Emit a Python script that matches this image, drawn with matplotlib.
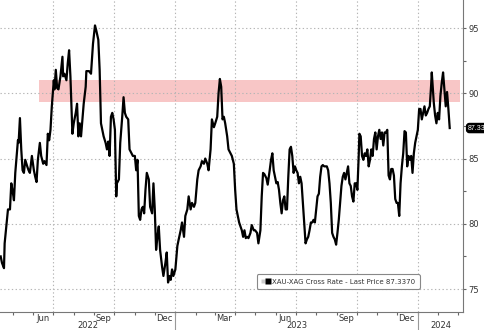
import matplotlib
matplotlib.use("Agg")
import matplotlib.pyplot as plt
import matplotlib.dates as mdates
from matplotlib.legend_handler import HandlerTuple
from matplotlib.lines import Line2D
import pandas as pd

# XAU-XAG cross rate
dates = [
    "2022-04-13", "2022-04-15", "2022-04-18", "2022-04-19", "2022-04-22", "2022-04-24", "2022-04-27", "2022-04-29",
    "2022-05-01", "2022-05-03", "2022-05-05", "2022-05-09", "2022-05-10", "2022-05-12", "2022-05-14", "2022-05-16",
    "2022-05-18", "2022-05-20", "2022-05-23", "2022-05-25", "2022-05-27", "2022-05-30", "2022-06-02", "2022-06-04",
    "2022-06-06", "2022-06-08", "2022-06-11", "2022-06-13", "2022-06-16", "2022-06-18", "2022-06-21", "2022-06-23",
    "2022-06-25", "2022-06-27", "2022-06-29", "2022-07-02", "2022-07-03", "2022-07-05", "2022-07-07", "2022-07-09",
    "2022-07-12", "2022-07-15", "2022-07-16", "2022-07-18", "2022-07-21", "2022-07-23", "2022-07-25", "2022-07-27",
    "2022-07-30", "2022-08-01", "2022-08-04", "2022-08-06", "2022-08-08", "2022-08-10", "2022-08-12", "2022-08-14",
    "2022-08-16", "2022-08-19", "2022-08-20", "2022-08-24", "2022-08-27", "2022-08-30", "2022-09-02", "2022-09-04",
    "2022-09-07", "2022-09-09", "2022-09-11", "2022-09-13", "2022-09-15", "2022-09-18", "2022-09-20", "2022-09-22",
    "2022-09-24", "2022-09-26", "2022-09-28", "2022-09-30", "2022-10-02",
    "2022-10-04", "2022-10-05", "2022-10-08", "2022-10-10", "2022-10-13", "2022-10-15", "2022-10-17", "2022-10-19",
    "2022-10-22", "2022-10-24", "2022-10-27", "2022-10-29", "2022-11-01", "2022-11-03", "2022-11-05", "2022-11-07",
    "2022-11-09", "2022-11-11", "2022-11-13", "2022-11-15", "2022-11-17", "2022-11-19", "2022-11-22", "2022-11-24",
    "2022-11-27", "2022-11-29", "2022-12-01", "2022-12-03", "2022-12-05", "2022-12-07", "2022-12-09", "2022-12-12",
    "2022-12-14", "2022-12-17", "2022-12-19", "2022-12-21", "2022-12-23", "2022-12-25", "2022-12-27", "2022-12-29",
    "2023-01-01", "2023-01-04", "2023-01-06", "2023-01-09", "2023-01-11", "2023-01-14", "2023-01-16", "2023-01-19",
    "2023-01-21", "2023-01-24", "2023-01-26", "2023-01-29", "2023-01-31", "2023-02-03", "2023-02-05", "2023-02-08",
    "2023-02-10", "2023-02-13", "2023-02-15", "2023-02-18", "2023-02-20", "2023-02-23", "2023-02-25", "2023-02-28",
    "2023-03-02", "2023-03-05", "2023-03-07", "2023-03-09", "2023-03-11", "2023-03-13", "2023-03-15", "2023-03-17",
    "2023-03-20", "2023-03-22",
    "2023-03-27", "2023-03-30", "2023-04-01", "2023-04-03", "2023-04-05", "2023-04-07", "2023-04-09", "2023-04-11",
    "2023-04-13", "2023-04-15", "2023-04-17", "2023-04-19", "2023-04-21", "2023-04-24", "2023-04-26", "2023-04-29",
    "2023-05-01", "2023-05-04", "2023-05-06", "2023-05-09", "2023-05-11", "2023-05-13", "2023-05-15", "2023-05-18",
    "2023-05-20", "2023-05-23", "2023-05-25", "2023-05-27", "2023-05-29", "2023-05-31", "2023-06-02", "2023-06-04",
    "2023-06-06", "2023-06-08", "2023-06-10", "2023-06-12", "2023-06-14", "2023-06-16", "2023-06-18", "2023-06-20",
    "2023-06-22", "2023-06-24", "2023-06-26", "2023-06-28", "2023-06-30", "2023-07-02", "2023-07-04", "2023-07-06",
    "2023-07-08", "2023-07-10", "2023-07-12", "2023-07-14", "2023-07-16", "2023-07-18", "2023-07-20", "2023-07-22",
    "2023-07-24", "2023-07-26", "2023-07-28", "2023-07-30", "2023-08-01", "2023-08-03", "2023-08-05", "2023-08-07",
    "2023-08-09", "2023-08-11", "2023-08-13", "2023-08-15", "2023-08-17", "2023-08-19", "2023-08-21", "2023-08-23",
    "2023-08-25", "2023-08-27", "2023-08-29", "2023-08-31", "2023-09-02", "2023-09-04", "2023-09-06", "2023-09-08",
    "2023-09-10", "2023-09-12",
    "2023-09-14", "2023-09-16", "2023-09-18", "2023-09-20", "2023-09-22", "2023-09-24", "2023-09-26", "2023-09-28",
    "2023-09-30", "2023-10-02", "2023-10-04", "2023-10-05", "2023-10-07", "2023-10-09", "2023-10-11", "2023-10-13",
    "2023-10-15", "2023-10-17", "2023-10-19", "2023-10-21", "2023-10-23", "2023-10-25", "2023-10-27", "2023-10-29",
    "2023-10-31", "2023-11-02", "2023-11-04", "2023-11-06", "2023-11-08", "2023-11-10", "2023-11-12", "2023-11-14",
    "2023-11-16", "2023-11-18", "2023-11-20", "2023-11-22", "2023-11-24", "2023-11-26", "2023-11-28", "2023-11-30",
    "2023-12-02", "2023-12-04", "2023-12-06", "2023-12-08", "2023-12-10", "2023-12-12", "2023-12-14", "2023-12-16",
    "2023-12-18", "2023-12-20", "2023-12-22", "2023-12-24", "2023-12-26", "2023-12-28", "2023-12-30", "2024-01-01",
    "2024-01-03", "2024-01-05", "2024-01-07", "2024-01-09", "2024-01-11", "2024-01-13", "2024-01-15", "2024-01-17",
    "2024-01-19", "2024-01-21", "2024-01-22", "2024-01-23", "2024-01-25", "2024-01-27", "2024-01-29", "2024-01-31",
    "2024-02-02", "2024-02-04", "2024-02-06", "2024-02-08", "2024-02-10", "2024-02-12", "2024-02-14", "2024-02-16",
    "2024-02-18",
]
ratio = [
    77.5, 77.0, 76.6, 78.5, 80.1, 81.1, 81.1, 83.1,
    82.5, 81.8, 83.9, 86.4, 86.2, 88.1, 85.7, 84.1,
    83.9, 84.9, 84.4, 84.1, 83.9, 85.2, 84.1, 83.6,
    83.2, 84.9, 86.2, 85.2, 84.6, 84.8, 84.5, 86.9,
    86.4, 87.2, 89.0, 91.0, 90.3, 91.8, 90.4, 90.3,
    91.3, 92.8, 91.3, 91.5, 91.0, 92.3, 93.3, 91.3,
    86.9, 87.7, 88.5, 89.2, 86.7, 87.7, 86.7, 88.0,
    89.2, 90.5, 91.7, 91.7, 91.5, 93.8, 95.2, 94.8,
    94.1, 91.8, 87.7, 87.2, 86.7, 86.2, 85.7, 86.3,
    85.2, 88.2, 88.5, 88.0, 87.2,
    82.1, 83.1, 83.4, 86.2, 88.2, 89.7, 88.5, 88.2,
    88.0, 85.7, 85.4, 85.2, 85.2, 84.1, 84.9, 80.6,
    80.3, 81.1, 81.3, 80.8, 82.6, 83.9, 83.4, 81.3,
    80.8, 83.1, 81.1, 78.0, 79.0, 79.8, 78.0, 76.7,
    76.0, 77.0, 77.8, 75.5, 76.0, 75.7, 76.5, 76.0,
    76.5, 78.3, 78.8, 79.5, 80.1, 79.0, 80.6, 81.1,
    82.1, 81.1, 81.6, 81.3, 81.6, 83.4, 84.1, 84.4,
    84.8, 84.6, 85.0, 84.6, 84.1, 85.7, 88.0, 87.4,
    87.7, 88.2, 90.0, 91.1, 90.5, 88.0, 88.2, 87.7,
    86.7, 85.7,
    85.2, 84.6, 82.6, 81.1, 80.6, 80.1, 79.8, 79.5,
    79.0, 79.5, 78.9, 79.0, 78.9, 79.3, 79.9, 79.5,
    79.5, 79.3, 78.5, 79.5, 82.1, 83.9, 83.8, 83.5,
    83.0, 84.1, 84.9, 85.4, 84.1, 83.6, 83.1, 83.2,
    82.6, 81.6, 80.8, 81.8, 82.1, 81.1, 81.1, 83.6,
    85.7, 85.9, 85.2, 83.9, 84.4, 84.1, 83.9, 83.1,
    83.6, 83.1, 81.6, 80.1, 78.5, 78.8, 79.0, 79.5,
    80.1, 80.1, 80.3, 80.1, 81.1, 82.1, 82.3, 83.6,
    84.4, 84.5, 84.4, 84.4, 84.4, 84.1, 83.1, 81.6,
    79.3, 79.0, 78.8, 78.4, 79.3, 80.3, 81.6, 82.9,
    83.6, 83.9,
    83.4, 83.9, 84.4, 83.1, 82.9, 82.1, 81.7, 83.1,
    83.1, 82.6, 85.2, 86.9, 86.7, 85.2, 84.9, 85.4,
    85.2, 85.7, 84.4, 84.9, 85.7, 85.2, 86.5, 87.0,
    85.7, 86.7, 87.2, 86.5, 87.0, 86.0, 87.0, 87.0,
    87.2, 83.7, 83.4, 84.2, 84.2, 83.7, 81.9, 81.6,
    81.6, 80.6, 83.1, 84.4, 85.4, 87.1, 87.0, 84.4,
    85.2, 84.9, 85.2, 83.9, 85.4, 86.2, 86.7, 87.2,
    88.8, 88.8, 88.0, 88.5, 89.0, 88.3, 88.5, 88.8,
    89.0, 90.6, 91.6, 90.8, 89.3, 88.3, 87.7, 88.5,
    88.0, 89.8, 90.8, 91.6, 90.3, 89.0, 90.1, 88.8,
    87.337,
]
band_low, band_high = 89.3, 91.0
band_start, band_end = "2022-06-10", "2024-03-04"
last_price = 87.3370
last_tag = "87.33"
years = ["2022", "2023", "2024"]
y_ticks = [75, 80, 85, 90, 95]
quarter_starts = ["2022-07-01", "2022-10-01", "2023-01-01", "2023-04-01",
                  "2023-07-01", "2023-10-01", "2024-01-01"]

x = pd.to_datetime(dates)
x_left, x_right = pd.Timestamp("2022-04-12"), pd.Timestamp("2024-03-09")

fig = plt.figure(figsize=(4.85, 3.3), dpi=100)
ax = fig.add_axes([0.0, 0.055, 463 / 485, 0.945])

ax.fill_between(pd.to_datetime([band_start, band_end]), band_low, band_high,
                color="#f8c6c6", lw=0, zorder=1)

# dotted gridlines
grid_kw = dict(color="#b5b5b5", ls=(0, (1.2, 2.2)), lw=0.8, zorder=1.5)
for v in y_ticks:
    ax.axhline(v, **grid_kw)
for q in pd.to_datetime(quarter_starts):
    ax.axvline(q, **grid_kw)

ax.plot(x, ratio, color="black", lw=1.6, zorder=3)

ax.set_xlim(x_left, x_right)
ax.set_ylim(73.25, 97.15)

# y axis on the right
ax.yaxis.tick_right()
ax.set_yticks(y_ticks)
ax.set_yticks([77.5, 82.5, 87.5, 92.5], minor=True)
ax.tick_params(axis="y", which="both", direction="out", length=2.5, width=0.8,
               color="#666666", labelsize=6, labelcolor="#333333", pad=1.5)

# x axis: month ticks, month labels mid-month
ax.xaxis.set_major_locator(mdates.MonthLocator())
ax.xaxis.set_major_formatter(plt.NullFormatter())
ax.xaxis.set_minor_locator(mdates.MonthLocator(bymonth=(3, 6, 9, 12), bymonthday=15))
ax.xaxis.set_minor_formatter(mdates.DateFormatter("%b"))
ax.tick_params(axis="x", which="major", direction="out", length=2, width=0.8, color="#666666")
ax.tick_params(axis="x", which="minor", length=0, labelsize=6, labelcolor="#333333", pad=1.5)

for s in ["left", "top"]:
    ax.spines[s].set_visible(False)
ax.spines["right"].set_color("#777777")
ax.spines["bottom"].set_color("#777777")

# year labels and separators
edges = [x_left, pd.Timestamp("2023-01-01"), pd.Timestamp("2024-01-01"), x_right]
for i, yr in enumerate(years):
    mid = edges[i] + (edges[i + 1] - edges[i]) / 2
    ax.text(mid, -0.045, yr, transform=ax.get_xaxis_transform(), ha="center",
            va="center", fontsize=6, color="#333333")
for e in edges[1:3]:
    ax.axvline(e, ymin=-0.06, ymax=0, color="#999999", lw=0.8, clip_on=False)

# last price tag
ax.text(1.01, last_price, last_tag, transform=ax.get_yaxis_transform(),
        ha="left", va="center", fontsize=5, family="Liberation Sans",
        color="white", zorder=5,
        bbox=dict(boxstyle="round,pad=0.15,rounding_size=0.4", fc="black", ec="black"),
        clip_on=False)

# legend
h = (Line2D([], [], marker="s", color="none", markerfacecolor="#cccccc",
            markeredgecolor="none", markersize=3),
     Line2D([], [], marker="s", color="none", markerfacecolor="black",
            markeredgecolor="none", markersize=5))
leg = ax.legend([h], [f"XAU-XAG Cross Rate - Last Price {last_price:.4f}"],
                handler_map={tuple: HandlerTuple(ndivide=None, pad=0.1)},
                loc="lower left", bbox_to_anchor=(0.555, 0.074), borderaxespad=0,
                fontsize=5.0, handlelength=1.3, handletextpad=0.3, borderpad=0.6,
                frameon=True, fancybox=True, edgecolor="#888888", framealpha=1,
                labelcolor="#333333")
leg.get_frame().set_linewidth(0.8)

fig.savefig("out.png", dpi=100)
